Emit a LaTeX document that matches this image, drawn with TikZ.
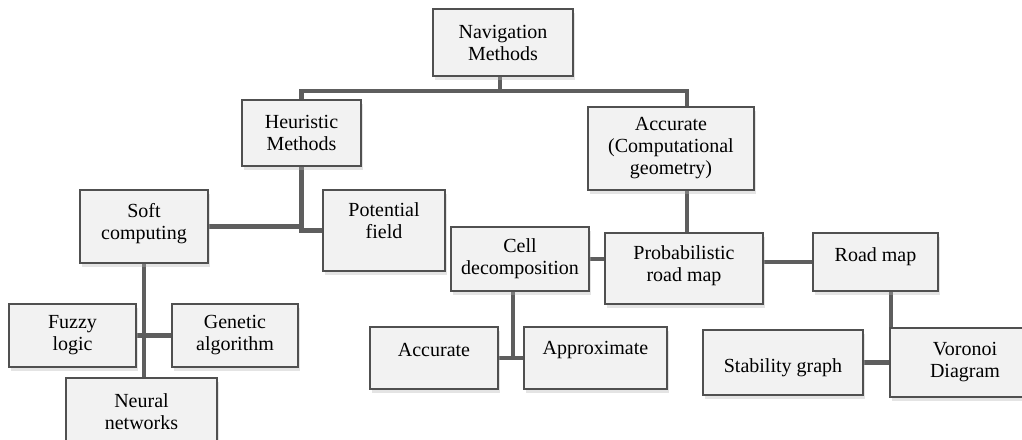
\documentclass[tikz,border=0pt]{standalone}
\usepackage{fontspec}
\setmainfont{Liberation Serif}
\usetikzlibrary{shadows,backgrounds}
\definecolor{boxfill}{HTML}{F2F2F2}
\definecolor{boxline}{HTML}{505050}
\definecolor{connc}{HTML}{5E5E5E}
\tikzset{
  box/.style={draw=boxline, line width=1.4pt, fill=boxfill, inner sep=0pt, align=center,
    font=\fontsize{20}{22}\selectfont,
    drop shadow={shadow xshift=2pt, shadow yshift=-4pt, fill=gray!60, opacity=0.35}},
  conn/.style={draw=connc, line width=4.5pt}
}
\begin{document}
\begin{tikzpicture}[x=1pt,y=-1pt]
\useasboundingbox (0,0) rectangle (1022,439);
\node[box, minimum width=140, minimum height=67] (nav) at (503,42.5) {Navigation\\Methods};
\node[box, minimum width=119, minimum height=66] (heu) at (301.5,133) {Heuristic\\Methods};
\node[box, minimum width=166, minimum height=83] (acc) at (671,148.5) {Accurate\\(Computational\\geometry)};
\node[box, minimum width=128, minimum height=73] (soft) at (144,226.5) {Soft\\computing\\[-11pt]};
\node[box, minimum width=122, minimum height=81] (pot) at (384,230.5) {Potential\\field\\[-3pt]};
\node[box, minimum width=138, minimum height=64] (cell) at (520,259) {Cell\\decomposition};
\node[box, minimum width=158, minimum height=71] (prob) at (684,268.5) {Probabilistic\\road map\\[-13pt]};
\node[box, minimum width=125, minimum height=58] (road) at (875.5,262) {Road map\\[-8pt]};
\node[box, minimum width=127, minimum height=63] (fuzzy) at (72.5,335.5) {Fuzzy\\logic};
\node[box, minimum width=126, minimum height=63] (gen) at (235,335.5) {Genetic\\algorithm};
\node[box, minimum width=151, minimum height=67] (neural) at (141.5,411.5) {Neural\\networks};
\node[box, minimum width=128, minimum height=62] (accl) at (434,358) {Accurate\\[-6pt]};
\node[box, minimum width=143, minimum height=62] (approx) at (595.5,358) {Approximate\\[-2pt]};
\node[box, minimum width=160, minimum height=65] (stab) at (783,362.5) {\raisebox{-5pt}[\height][\depth]{Stability graph}};
\node[box, minimum width=150, minimum height=69] (voro) at (965,362.5) {Voronoi\\Diagram};
\coordinate (j1) at (500,91);
\coordinate (xa) at (687,0);
\coordinate (xc) at (513,0);
\coordinate (xr) at (891,0);
\begin{scope}[on background layer]
\draw[conn] (nav.south -| j1) -- (j1);
\draw[conn] (heu.north) |- (j1) -| (acc.north -| xa);
\draw[conn] (acc.south -| xa) -- (prob.north -| xa);
\draw[conn] (heu.south) |- (pot.west);
\draw[conn] (soft.east) -- (soft.east -| heu.south);
\draw[conn] (soft.south) -- (neural.north -| soft.south);
\draw[conn] (fuzzy.east) -- (gen.west);
\draw[conn] (cell.east) -- (prob.west |- cell.east);
\draw[conn] (cell.south -| xc) -- (xc |- accl.east);
\draw[conn] (accl.east) -- (approx.west);
\draw[conn] (prob.east |- road.west) -- (road.west);
\draw[conn] (road.south -| xr) -- (xr |- stab.east);
\draw[conn] (stab.east) -- (voro.west);
\end{scope}
\end{tikzpicture}
\end{document}
